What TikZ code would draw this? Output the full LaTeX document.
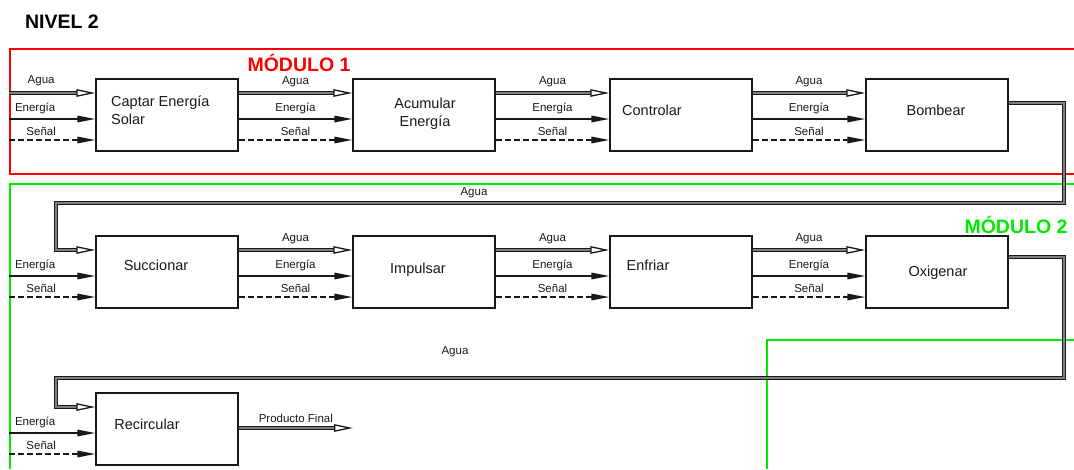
\documentclass[tikz,border=0pt]{standalone}
\usepackage{fontspec}
\setmainfont{Liberation Sans}
\usetikzlibrary{arrows.meta,calc}
\definecolor{modred}{RGB}{255,0,0}
\definecolor{modgreen}{RGB}{0,235,0}
\definecolor{ink}{RGB}{25,25,25}
\begin{document}
\begin{tikzpicture}[x=1pt,y=-1pt,
  box/.style={draw=ink, line width=1.3pt, minimum width=142pt, minimum height=72pt, inner sep=0pt},
  boxtext/.style={font=\fontsize{14.5}{18}\selectfont, align=left, inner sep=0pt, text=ink},
  lbl/.style={font=\fontsize{11.5}{13}\selectfont, inner sep=1pt, text=ink},
  energy/.style={draw=ink, line width=1.5pt, -{Triangle[length=18pt,width=6.5pt]}},
  signal/.style={energy, dash pattern=on 6pt off 3pt},
  water/.style={draw=ink, line width=1.4pt, double=black!50, double distance=1.3pt,
    -{Triangle[open,length=19pt,width=7.5pt,fill=white,line width=1.3pt]}},
  modline/.style={line width=1.3pt},
  title/.style={font=\bfseries\fontsize{19.5}{22}\selectfont, inner sep=0pt}
]
\useasboundingbox (0,0) rectangle (1074,469);

% module frames
\draw[modline, draw=modred] (1074,49) -- (10,49) -- (10,174) -- (1074,174);
\draw[modline, draw=modgreen] (1074,184) -- (10,184) -- (10,469);
\draw[modline, draw=modgreen] (1074,340) -- (767,340) -- (767,469);

% titles
\node[title] (nivel) at (62,22) {NIVEL 2};
\node[title, text=modred] (mod1) at (299,63) {MÓDULO 1};
\node[title, text=modgreen] (mod2) at (1016,225) {MÓDULO 2};

% boxes row 1
\node[box] (b1) at (167,115) {};
\node[box] (b2) at (424,115) {};
\node[box] (b3) at (681,115) {};
\node[box] (b4) at (937,115) {};
% row 2
\node[box] (b5) at (167,272) {};
\node[box] (b6) at (424,272) {};
\node[box] (b7) at (681,272) {};
\node[box] (b8) at (937,272) {};
% row 3
\node[box] (b9) at (167,429) {};

% box texts
\node[boxtext, anchor=west] (t1) at (111,110) {Captar Energía\\Solar};
\node[boxtext, align=center] (t2) at (425,114) {Acumular\\Energía};
\node[boxtext] (t3) at (652,110) {Controlar};
\node[boxtext] (t4) at (936,110) {Bombear};
\node[boxtext] (t5) at (156,265) {Succionar};
\node[boxtext] (t6) at (418,270) {Impulsar};
\node[boxtext] (t7) at (648,265) {Enfriar};
\node[boxtext] (t8) at (938,273) {Oxigenar};
\node[boxtext] (t9) at (147,424) {Recircular};

% left inputs row 1
\draw[water] ([shift={(-86pt,22pt)}]b1.west) -- node[lbl, pos=0.37, above=5pt] {Agua} ([yshift=22pt]b1.west);
\draw[energy] ([shift={(-86pt,-4pt)}]b1.west) -- node[lbl, pos=0.3, above=3pt] {Energía} ([yshift=-4pt]b1.west);
\draw[signal] ([shift={(-86pt,-25pt)}]b1.west) -- node[lbl, pos=0.37, above=3pt] {Señal} ([yshift=-25pt]b1.west);

% between boxes
\foreach \a/\b in {b1/b2,b2/b3,b3/b4,b5/b6,b6/b7,b7/b8}{
  \draw[water] ([yshift=22pt]\a.east) -- node[lbl, above=4pt] {Agua} ([yshift=22pt]\b.west);
  \draw[energy] ([yshift=-4pt]\a.east) -- node[lbl, above=3pt] {Energía} ([yshift=-4pt]\b.west);
  \draw[signal] ([yshift=-25pt]\a.east) -- node[lbl, above=3pt] {Señal} ([yshift=-25pt]\b.west);
}

% left inputs rows 2 and 3
\foreach \b in {b5,b9}{
  \draw[energy] ([shift={(-86pt,-4pt)}]\b.west) -- node[lbl, pos=0.3, above=3pt] {Energía} ([yshift=-4pt]\b.west);
  \draw[signal] ([shift={(-86pt,-25pt)}]\b.west) -- node[lbl, pos=0.37, above=3pt] {Señal} ([yshift=-25pt]\b.west);
}

% feedback water lines
\coordinate (r1) at (1064,203);
\coordinate (l1) at (56,203);
\coordinate (r2) at (1064,378);
\coordinate (l2) at (56,378);
\draw[water] ([yshift=12pt]b4.east) -| (r1) -- (l1) |- ([yshift=22pt]b5.west);
\draw[water] ([yshift=15pt]b8.east) -| (r2) -- (l2) |- ([yshift=22pt]b9.west);
\node[lbl] (a1) at (474,193) {Agua};
\node[lbl] (a2) at (455,352) {Agua};

% final product
\coordinate (pf) at (353,428);
\draw[water] (b9.east |- pf) -- node[lbl, above=4pt] {Producto Final} (pf);
\end{tikzpicture}
\end{document}
